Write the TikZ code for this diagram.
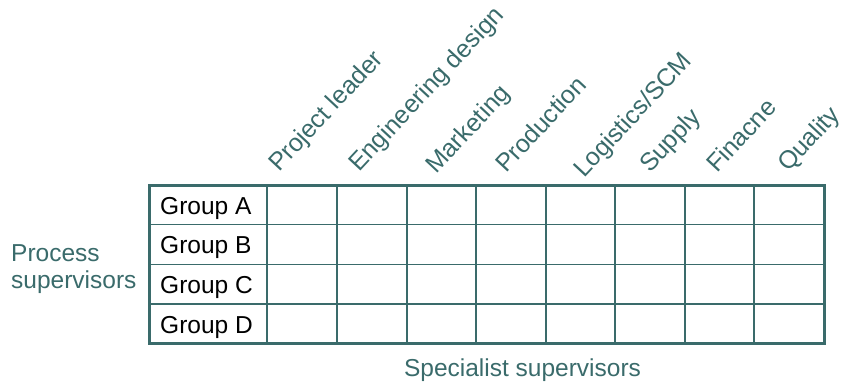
\documentclass[tikz,border=0pt]{standalone}
\usepackage{fontspec}
\setmainfont{Liberation Sans}
\definecolor{teal}{RGB}{58,107,107}
\begin{document}
\begin{tikzpicture}[x=1bp,y=-1bp,
  outer/.style={draw=teal,line width=3bp},
  inner/.style={draw=teal,line width=1.6bp},
  grp/.style={anchor=base west,inner sep=0pt,text=black,font=\fontsize{24.5bp}{28bp}\selectfont},
  side/.style={anchor=base west,inner sep=0pt,text=teal,font=\fontsize{24.5bp}{28bp}\selectfont},
  head/.style={anchor=base west,inner sep=0pt,text=teal,rotate=47,font=\fontsize{25bp}{29bp}\selectfont}]
\useasboundingbox (0,0) rectangle (841,383);
% grid
\coordinate (tl) at (149,185);
\coordinate (br) at (824,343.5);
\foreach \x in {267,337,407,476,546,615,685,754}
  \draw[inner] (\x,185) -- (\x,343.5);
\foreach \y in {224.5,264.5,304}
  \draw[inner] (149,\y) -- (824,\y);
\draw[outer] (tl) rectangle (br);
% group labels
\node[grp] (ga) at (160,214) {Group A};
\node[grp] (gb) at (160,253.5) {Group B};
\node[grp] (gc) at (160,293.5) {Group C};
\node[grp] (gd) at (160,333) {Group D};
% side labels
\node[side] (p1) at (11,261) {Process};
\node[side] (p2) at (11,288.3) {supervisors};
\node[side,anchor=base] (ss) at (522.5,376.5) {Specialist supervisors};
% headers
\node[head] (h1) at (279,173) {Project leader};
\node[head] (h2) at (359,173) {Engineering design};
\node[head] (h3) at (436,175) {Marketing};
\node[head] (h4) at (506,174) {Production};
\node[head] (h5) at (584,179) {Logistics/SCM};
\node[head] (h6) at (650,174) {Supply};
\node[head] (h7) at (717,174) {Finacne};
\node[head] (h8) at (788,173) {Quality};
\end{tikzpicture}
\end{document}
